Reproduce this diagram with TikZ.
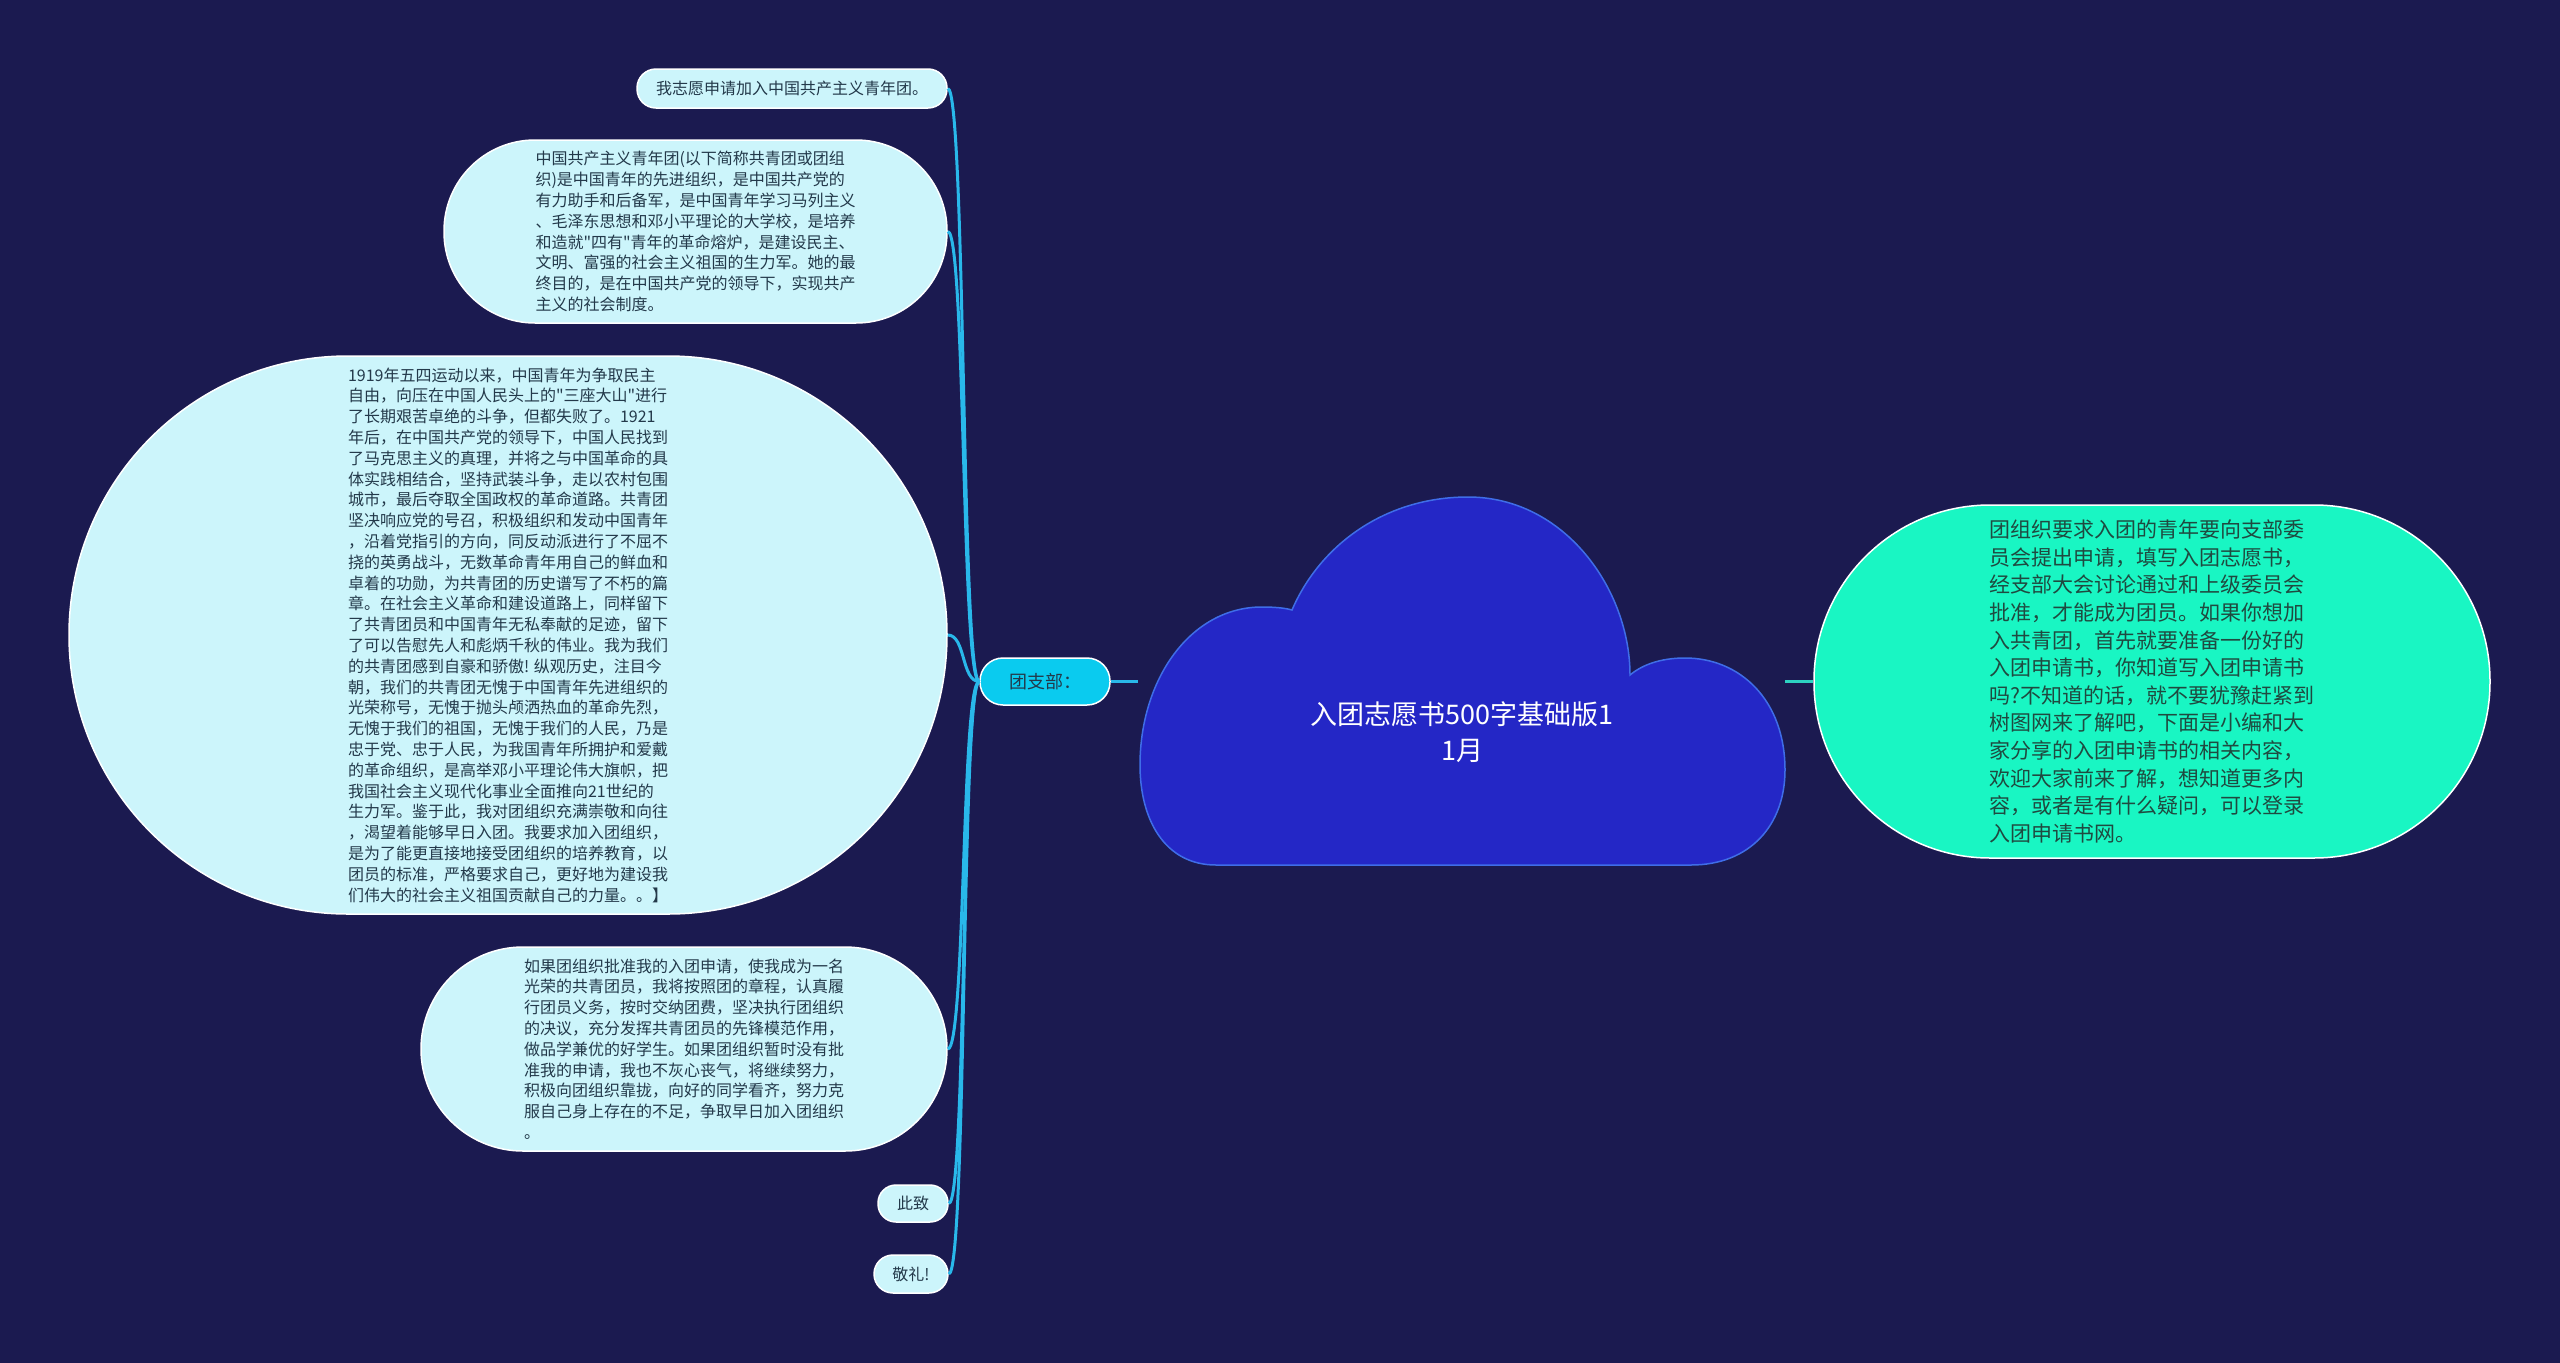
\documentclass[tikz,border=0pt]{standalone}
\usepackage{fontspec}
\setmainfont{Noto Sans CJK SC}[Ligatures=TeXOff]
\usepackage{xcolor}
\usepackage{tikz}

\definecolor{bgnavy}{HTML}{1B1A50}
\definecolor{leafcyan}{HTML}{CCF5FB}
\definecolor{leafink}{HTML}{23394A}
\definecolor{hubcyan}{HTML}{0ACBEF}
\definecolor{cloudblue}{HTML}{2427C6}
\definecolor{cloudedge}{HTML}{3F6DE8}
\definecolor{infogreen}{HTML}{19F6C3}
\definecolor{infoink}{HTML}{1F4A40}
\definecolor{linkcyan}{HTML}{29B8EA}
\definecolor{linkgreen}{HTML}{2DD1C2}

\begin{document}
\begin{tikzpicture}[
  x=1pt, y=-1pt,
  box/.style={draw=white, line width=1.5pt, align=left, inner sep=0pt, text=leafink},
  leaf/.style={box, fill=leafcyan, font=\fontsize{16}{20.8}\selectfont},
  hub/.style={box, fill=hubcyan, font=\fontsize{18}{22}\selectfont, minimum width=130pt, minimum height=47pt, rounded corners=23pt},
  info/.style={box, fill=infogreen, text=infoink, font=\fontsize{21}{27.6}\selectfont},
  rootlabel/.style={align=center, text=white, font=\fontsize{27}{36}\selectfont},
  cloudshape/.style={fill=cloudblue, draw=cloudedge, line width=1.5pt},
  link/.style={draw=linkcyan, line width=3pt},
  linkg/.style={draw=linkgreen, line width=3pt}
]

% background, sets the page size
\fill[bgnavy] (0,0) rectangle (2560,1363);

% -- central cloud --
\draw[cloudshape] (1216,865) .. controls (1165,865) and (1140,820) .. (1140,765)
  .. controls (1140,680) and (1190,607) .. (1262,607)
  .. controls (1275,607) and (1285,608) .. (1292,610)
  .. controls (1320,545) and (1385,497) .. (1468,497)
  .. controls (1565,497) and (1630,590) .. (1630,675)
  .. controls (1642,665) and (1660,658) .. (1685,658)
  .. controls (1740,658) and (1785,700) .. (1785,770)
  .. controls (1785,825) and (1750,865) .. (1691,865)
  -- cycle;
\node[rootlabel] (root) at (1462,732) {入团志愿书500字基础版1\\1月};
\coordinate (cl) at (1138,681.5);
\coordinate (cr) at (1785,681.5);

% -- right branch --
\node[info, minimum width=676pt, minimum height=353pt, rounded corners=176pt] (info) at (2152,681.5)
  {团组织要求入团的青年要向支部委\\员会提出申请，填写入团志愿书，\\经支部大会讨论通过和上级委员会\\批准，才能成为团员。如果你想加\\入共青团，首先就要准备一份好的\\入团申请书，你知道写入团申请书\\吗?不知道的话，就不要犹豫赶紧到\\树图网来了解吧，下面是小编和大\\家分享的入团申请书的相关内容，\\欢迎大家前来了解，想知道更多内\\容，或者是有什么疑问，可以登录\\入团申请书网。};

% -- left branch --
\node[hub] (tzb) at (1045,681.5) {团支部：};

\node[leaf, minimum width=310pt, minimum height=39pt, rounded corners=19pt] (n1) at (792,88.5)
  {我志愿申请加入中国共产主义青年团。};
\node[leaf, minimum width=503pt, minimum height=183pt, rounded corners=91pt] (n2) at (695.5,231.5)
  {中国共产主义青年团(以下简称共青团或团组\\织)是中国青年的先进组织，是中国共产党的\\有力助手和后备军，是中国青年学习马列主义\\、毛泽东思想和邓小平理论的大学校，是培养\\和造就"四有"青年的革命熔炉，是建设民主、\\文明、富强的社会主义祖国的生力军。她的最\\终目的，是在中国共产党的领导下，实现共产\\主义的社会制度。};
\node[leaf, minimum width=878pt, minimum height=558pt, rounded corners=279pt] (n3) at (508,635)
  {1919年五四运动以来，中国青年为争取民主\\自由，向压在中国人民头上的"三座大山"进行\\了长期艰苦卓绝的斗争，但都失败了。1921\\年后，在中国共产党的领导下，中国人民找到\\了马克思主义的真理，并将之与中国革命的具\\体实践相结合，坚持武装斗争，走以农村包围\\城市，最后夺取全国政权的革命道路。共青团\\坚决响应党的号召，积极组织和发动中国青年\\，沿着党指引的方向，同反动派进行了不屈不\\挠的英勇战斗，无数革命青年用自己的鲜血和\\卓着的功勋，为共青团的历史谱写了不朽的篇\\章。在社会主义革命和建设道路上，同样留下\\了共青团员和中国青年无私奉献的足迹，留下\\了可以告慰先人和彪炳千秋的伟业。我为我们\\的共青团感到自豪和骄傲! 纵观历史，注目今\\朝，我们的共青团无愧于中国青年先进组织的\\光荣称号，无愧于抛头颅洒热血的革命先烈，\\无愧于我们的祖国，无愧于我们的人民，乃是\\忠于党、忠于人民，为我国青年所拥护和爱戴\\的革命组织，是高举邓小平理论伟大旗帜，把\\我国社会主义现代化事业全面推向21世纪的\\生力军。鉴于此，我对团组织充满崇敬和向往\\，渴望着能够早日入团。我要求加入团组织，\\是为了能更直接地接受团组织的培养教育，以\\团员的标准，严格要求自己，更好地为建设我\\们伟大的社会主义祖国贡献自己的力量。。】};
\node[leaf, minimum width=526pt, minimum height=204pt, rounded corners=102pt] (n4) at (684,1049)
  {如果团组织批准我的入团申请，使我成为一名\\光荣的共青团员，我将按照团的章程，认真履\\行团员义务，按时交纳团费，坚决执行团组织\\的决议，充分发挥共青团员的先锋模范作用，\\做品学兼优的好学生。如果团组织暂时没有批\\准我的申请，我也不灰心丧气，将继续努力，\\积极向团组织靠拢，向好的同学看齐，努力克\\服自己身上存在的不足，争取早日加入团组织\\。};
\node[leaf, minimum width=70pt, minimum height=37pt, rounded corners=18pt] (cz) at (913,1203.5) {此致};
\node[leaf, minimum width=74pt, minimum height=38pt, rounded corners=19pt] (jl) at (911,1274) {敬礼!};

% -- connectors --
\draw[link] (tzb.east) -- (cl);
\draw[linkg] (cr) -- (info.west);
\foreach \leafname in {n1,n2,n3,n4,cz,jl}
  \draw[link] (tzb.west) .. controls +(-18,0) and +(18,0) .. (\leafname.east);

\end{tikzpicture}
\end{document}
